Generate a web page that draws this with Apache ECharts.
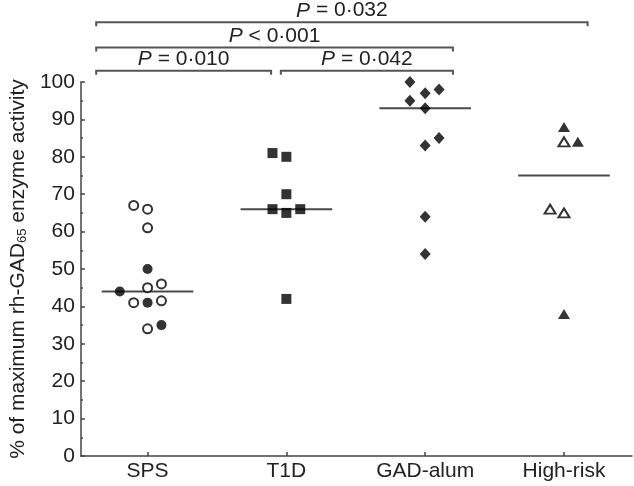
<!DOCTYPE html>
<html>
<head>
<meta charset="utf-8">
<script src="https://cdn.jsdelivr.net/npm/echarts@6/dist/echarts.min.js"></script>
<style>html,body{margin:0;padding:0;background:#fff;}#c{width:634px;height:486px;}</style>
</head>
<body>
<div id="c"></div>
<script>
// ---- data ----
const categories = ['SPS', 'T1D', 'GAD-alum', 'High-risk'];
const categoryPositions = [0, 1, 2, 3];
// [group position + jitter, value]
const spsOpen = [[-0.1, 67], [0, 66], [0, 61], [0, 45], [0.1, 46], [-0.1, 41], [0.1, 41.5], [0, 34]];
const spsFilled = [[0, 50], [0, 41], [0.1, 35], [-0.2, 44]];
const t1dFilled = [[0.9, 81], [1, 80], [1, 70], [0.9, 66], [1, 65], [1.1, 66], [1, 42]];
const gadFilled = [[1.89, 100], [2, 97], [2.1, 98], [1.89, 95], [2, 93], [2.1, 85], [2, 83], [2, 64], [2, 54]];
const hrFilled = [[3, 88], [3.1, 84], [3, 38]];
const hrOpen = [[3, 84], [2.9, 66], [3, 65]];
const medians = [44, 66, 93, 75];
// significance brackets
const bracketFrom = [-0.37, 0.96, -0.37, -0.37];
const bracketTo = [0.89, 2.2, 2.2, 3.17];
const bracketLevel = [103, 103, 109.2, 116];
const bracketP = ['= 0·010', '= 0·042', '< 0·001', '= 0·032'];

const FONT = 'Liberation Sans, Arial, Helvetica, sans-serif';
const FS = 21;
const chart = echarts.init(document.getElementById('c'), null, {renderer: 'canvas'});

const medianData = categoryPositions.map((p, i) => [p, medians[i]]);
const bracketData = bracketFrom.map((f, i) => [f, bracketTo[i], bracketLevel[i], i]);

function scatter(data, symbol, size, filled) {
  return {
    type: 'scatter', data: data, symbol: symbol, symbolSize: size,
    itemStyle: filled ? {color: '#000'} : {color: '#fff', borderColor: '#000', borderWidth: 2},
    z: 5, silent: true
  };
}

chart.setOption({
  animation: false,
  grid: {left: 72, right: 2, top: 82, bottom: 30, containLabel: false},
  xAxis: {
    type: 'value', min: -0.48, max: 3.49,
    axisLine: {lineStyle: {color: '#444', width: 1.5}},
    axisTick: {inside: true, length: 4, customValues: categoryPositions, lineStyle: {color: '#444', width: 1.5}},
    axisLabel: {customValues: categoryPositions, formatter: v => categories[Math.round(v)] || '',
      color: '#222', fontSize: FS, fontFamily: FONT, margin: 5},
    splitLine: {show: false}
  },
  yAxis: {
    type: 'value', min: 0, max: 100, interval: 10,
    name: '{a|% of maximum rh-GAD}{s|65}{a| enzyme activity}',
    nameLocation: 'middle', nameRotate: 90, nameGap: 45,
    nameTextStyle: {color: '#222', fontFamily: FONT,
      rich: {a: {fontSize: FS, fontFamily: FONT, color: '#222'},
             s: {fontSize: 13, fontFamily: FONT, color: '#222', verticalAlign: 'bottom', padding: [8, 0, 0, 0]}}},
    axisLine: {show: true, onZero: false, lineStyle: {color: '#444', width: 1.5}},
    axisTick: {inside: true, length: 4, lineStyle: {color: '#444', width: 1.5}},
    minorTick: {show: true, splitNumber: 2, length: 2, lineStyle: {color: '#444', width: 1.5}},
    axisLabel: {color: '#222', fontSize: FS, fontFamily: FONT, margin: 6},
    splitLine: {show: false}
  },
  series: [
    {
      type: 'custom', data: medianData, z: 3, silent: true,
      renderItem: function (params, api) {
        const a = api.coord([api.value(0) - 0.33, api.value(1)]);
        const b = api.coord([api.value(0) + 0.33, api.value(1)]);
        return {type: 'line', shape: {x1: a[0], y1: a[1], x2: b[0], y2: b[1]},
          style: {stroke: '#4a4a4a', lineWidth: 2}};
      }
    },
    {
      type: 'custom', data: bracketData, clip: false, z: 4, silent: true,
      renderItem: function (params, api) {
        const a = api.coord([api.value(0), api.value(2)]);
        const b = api.coord([api.value(1), api.value(2)]);
        const idx = api.value(3);
        return {type: 'group', children: [
          {type: 'polyline', shape: {points: [[a[0], a[1] + 4], [a[0], a[1]], [b[0], b[1]], [b[0], b[1] + 4]]},
            style: {stroke: '#555', lineWidth: 2, fill: null}},
          {type: 'text', style: {x: (a[0] + b[0]) / 2, y: a[1] - 1, align: 'center', verticalAlign: 'bottom',
            text: '{i|P} ' + bracketP[idx], fontSize: FS, fontFamily: FONT, fill: '#222',
            rich: {i: {fontStyle: 'italic', fontSize: FS, fontFamily: FONT, fill: '#222'}}}}
        ]};
      }
    },
    scatter(spsOpen, 'circle', 9, false),
    scatter(spsFilled, 'circle', 10, true),
    scatter(t1dFilled, 'rect', 10, true),
    scatter(gadFilled, 'diamond', [11, 12], true),
    scatter(hrFilled, 'triangle', [12, 10], true),
    scatter(hrOpen, 'triangle', [11, 9], false)
  ]
});
</script>
</body>
</html>
